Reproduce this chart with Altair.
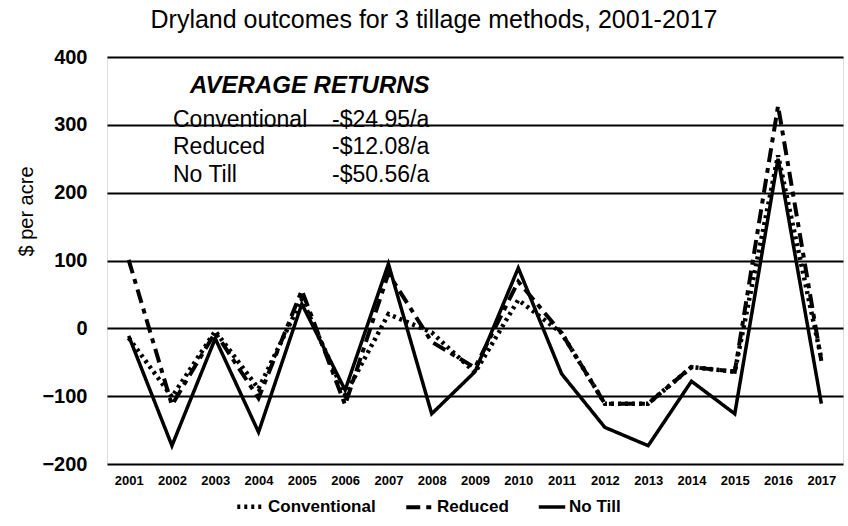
import altair as alt
import pandas as pd

FONT = "Liberation Sans"

# Seasons on the x axis
years = ["2001", "2002", "2003", "2004", "2005", "2006", "2007", "2008", "2009",
         "2010", "2011", "2012", "2013", "2014", "2015", "2016", "2017"]

# Net return per acre for each tillage method ($/acre)
conventional = [-14, -101, -4, -89, 43, -98, 21, -6, -65, 42, -7, -111, -111, -57, -64, 255, -45]
reduced = [101, -113, -6, -103, 56, -113, 81, -20, -58, 69, -7, -111, -111, -57, -64, 328, -48]
no_till = [-11, -173, -15, -153, 36, -91, 95, -126, -64, 89, -67, -146, -173, -78, -126, 250, -111]

series_names = ["Conventional", "Reduced", "No Till"]

# Average-returns box
avg_heading = ["AVERAGE RETURNS"]
avg_methods = ["Conventional", "Reduced", "No Till"]
avg_amounts = ["-$24.95/a", "-$12.08/a", "-$50.56/a"]

y_ticks = [-200, -100, 0, 100, 200, 300, 400]

rows = []
for name, vals in zip(series_names, [conventional, reduced, no_till]):
    for yr, v in zip(years, vals):
        rows.append({"year": yr, "value": v, "method": name})
df = pd.DataFrame(rows)

lines = alt.Chart(df).mark_line(color="black", strokeJoin="miter").encode(
    x=alt.X("year:O", sort=years, scale=alt.Scale(type="point", padding=0.5),
            axis=alt.Axis(title=None, labelAngle=0, domain=False, ticks=False, grid=False,
                          labelPadding=10, labelFont=FONT, labelFontSize=13,
                          labelFontWeight="bold", labelColor="black")),
    y=alt.Y("value:Q", scale=alt.Scale(domain=[-200, 400], nice=False, zero=False),
            axis=alt.Axis(values=y_ticks, title="$ per acre", domain=False, ticks=False,
                          grid=True, gridColor="black", gridWidth=2, gridOpacity=1,
                          labelPadding=20, labelFont=FONT, labelFontSize=20,
                          labelFontWeight="bold", labelColor="black",
                          titleFont=FONT, titleFontSize=20, titleFontWeight="normal",
                          titleColor="black", titleAngle=-90, titleAlign="center",
                          titleBaseline="middle", titleX=-81, titleY=154)),
    strokeDash=alt.StrokeDash(
        "method:N", sort=series_names,
        scale=alt.Scale(domain=series_names, range=[[3, 4], [14, 6, 5, 6], [1, 0]]),
        legend=alt.Legend(title=None, orient="none", legendX=128, legendY=434,
                          direction="horizontal", symbolType="stroke", symbolSize=700,
                          symbolStrokeWidth=4, symbolStrokeColor="black",
                          labelFont=FONT, labelFontSize=17, labelFontWeight="bold",
                          labelColor="black", columnPadding=22, labelOffset=2)),
    strokeWidth=alt.StrokeWidth("method:N", scale=alt.Scale(domain=series_names, range=[4.5, 3.5, 2.8]),
                                legend=None),
    order=alt.Order("year:O"),
)

heading = alt.Chart(pd.DataFrame({"t": avg_heading})).mark_text(
    font=FONT, fontSize=24, fontWeight="bold", fontStyle="italic", color="black",
    align="left", baseline="middle"
).encode(text="t:N", x=alt.value(83), y=alt.value(29))

# One text row per method in the averages box
row_y = [63, 90, 118]
box_layers = []
for method, amount, ypos in zip(avg_methods, avg_amounts, row_y):
    row_df = pd.DataFrame({"m": [method], "a": [amount]})
    box_layers.append(alt.Chart(row_df).mark_text(
        font=FONT, fontSize=23, color="black", align="left", baseline="middle"
    ).encode(text="m:N", x=alt.value(66), y=alt.value(ypos)))
    box_layers.append(alt.Chart(row_df).mark_text(
        font=FONT, fontSize=23, color="black", align="left", baseline="middle"
    ).encode(text="a:N", x=alt.value(225), y=alt.value(ypos)))

chart = alt.layer(lines, heading, *box_layers).properties(
    width=736,
    height=407,
    autosize="none",
    padding={"left": 107, "top": 57, "right": 5, "bottom": 62},
    title=alt.TitleParams(
        "Dryland outcomes for 3 tillage methods, 2001-2017",
        font=FONT, fontSize=25, fontWeight="normal", color="black",
        anchor="middle", frame="group", offset=14, dx=-41,
    ),
).configure_view(stroke=None).configure(background="white")

chart.save("out.html", embed_options={"renderer": "svg", "actions": False})
